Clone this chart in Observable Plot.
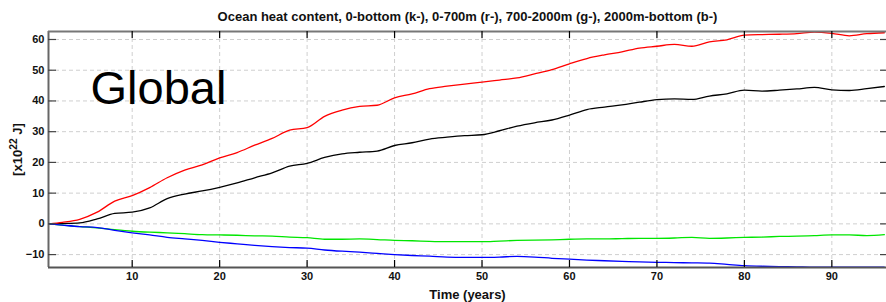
<!DOCTYPE html>
<html>
<head>
<meta charset="utf-8">
<script src="https://cdn.jsdelivr.net/npm/d3@7"></script>
<script src="https://cdn.jsdelivr.net/npm/@observablehq/plot@0.6"></script>
<style>
  html, body { margin: 0; padding: 0; background: #fff; }
  #chart svg { display: block; }
</style>
</head>
<body>
<div id="chart"></div>
<script>
const title = "Ocean heat content, 0-bottom (k-), 0-700m (r-), 700-2000m (g-), 2000m-bottom (b-)";
const panelLabel = "Global";
const yLabelBase = "[x10";
const yLabelSup = "22";
const yLabelUnit = " J]";
const xLabel = "Time (years)";

const years = [0.5, 2, 4, 6, 8, 10, 12, 14, 16, 18, 20, 22, 24, 26, 28, 30, 32, 34, 36, 38, 40,
  42, 44, 46, 48, 50, 52, 54, 56, 58, 60, 62, 64, 66, 68, 70, 72, 74, 76, 78, 80,
  82, 84, 86, 88, 90, 92, 94, 96];

// 0-bottom (black)
const total = [0, 0.1, 0.3, 1.6, 3.4, 3.8, 5.2, 8.2, 9.7, 10.7, 11.9, 13.3, 15.0, 16.6, 18.8, 19.7, 21.6, 22.8, 23.3, 23.7, 25.5,
  26.4, 27.6, 28.2, 28.7, 29.0, 30.3, 31.8, 32.9, 33.8, 35.4, 37.2, 38.0, 38.7, 39.6, 40.4, 40.7, 40.5, 41.6, 42.3, 43.5,
  43.2, 43.5, 43.9, 44.4, 43.6, 43.4, 44.0, 44.7];
// 0-700m (red)
const upper = [0, 0.5, 1.5, 3.8, 7.4, 9.2, 11.8, 15.0, 17.5, 19.2, 21.5, 23.2, 25.6, 27.8, 30.5, 31.3, 35.0, 37.0, 38.2, 38.6, 41.0,
  42.3, 44.0, 44.8, 45.5, 46.1, 46.8, 47.5, 48.8, 50.2, 52.1, 53.8, 55.0, 56.0, 57.2, 57.8, 58.4, 57.8, 59.2, 59.9, 61.4,
  61.6, 61.7, 61.9, 62.4, 62.0, 61.2, 61.9, 62.2];
// 700-2000m (green)
const middle = [0, -0.4, -0.9, -1.3, -1.9, -2.4, -2.7, -2.9, -3.2, -3.5, -3.6, -3.7, -3.9, -4.0, -4.3, -4.5, -5.0, -5.0, -4.9, -5.1, -5.4,
  -5.5, -5.7, -5.8, -5.8, -5.8, -5.6, -5.4, -5.3, -5.2, -5.0, -4.9, -4.9, -4.8, -4.7, -4.7, -4.6, -4.4, -4.7, -4.6, -4.4,
  -4.3, -4.1, -4.0, -3.8, -3.6, -3.6, -3.8, -3.5];
// 2000m-bottom (blue)
const deep = [0, -0.4, -0.9, -1.2, -2.1, -2.9, -3.6, -4.4, -4.9, -5.4, -6.0, -6.5, -7.0, -7.4, -7.7, -7.9, -8.5, -8.9, -9.2, -9.6, -10.0,
  -10.3, -10.5, -10.8, -10.9, -10.9, -10.8, -10.6, -10.8, -11.2, -11.5, -11.8, -12.0, -12.2, -12.4, -12.5, -12.6, -12.7, -12.8, -13.2, -13.6,
  -13.8, -13.9, -14.0, -14.1, -14.1, -14.1, -14.1, -14.1];

const seriesNames = ["0-bottom", "0-700m", "700-2000m", "2000m-bottom"];
const seriesValues = [total, upper, middle, deep];
const seriesColors = ["#000000", "#ff0000", "#00e600", "#0000ff"];

const xTicks = [10, 20, 30, 40, 50, 60, 70, 80, 90];
const yTicks = [-10, 0, 10, 20, 30, 40, 50, 60];
const xDomain = [0.43, 96.25];
const yDomain = [-14.2, 62.6];

const W = 886, H = 302;
const mL = 48, mR = 0, mT = 31, mB = 35;
const fw = W - mL - mR, fh = H - mT - mB;

const rows = [];
seriesNames.forEach((name, s) => {
  years.forEach((yr, i) => rows.push({series: name, year: yr, value: seriesValues[s][i]}));
});

const font = "'Liberation Sans', Arial, Helvetica, sans-serif";
const yLabelFull = yLabelBase + yLabelSup + yLabelUnit;

const chart = Plot.plot({
  width: W,
  height: H,
  marginLeft: mL, marginRight: mR, marginTop: mT, marginBottom: mB,
  style: {fontFamily: font, background: "#fff", overflow: "visible"},
  x: {domain: xDomain, ticks: xTicks, label: null},
  y: {domain: yDomain, ticks: yTicks, label: null},
  color: {domain: seriesNames, range: seriesColors},
  marks: [
    Plot.gridX(xTicks, {stroke: "#cfcfcf", strokeOpacity: 1, strokeDasharray: "4,3"}),
    Plot.gridY(yTicks, {stroke: "#cfcfcf", strokeOpacity: 1, strokeDasharray: "4,3"}),
    Plot.line(rows, {x: "year", y: "value", z: "series", stroke: "series", strokeWidth: 1.3, curve: "monotone-x", clip: true}),
    // frame (left, top, bottom)
    Plot.ruleX([xDomain[0]], {stroke: "#666", strokeWidth: 2}),
    Plot.ruleY([yDomain[1]], {stroke: "#777", strokeWidth: 2}),
    Plot.ruleY([yDomain[0]], {stroke: "#555", strokeWidth: 2}),
    // inward tick marks
    Plot.tickX(xTicks, {x: d => d, insetTop: fh - 7, stroke: "#000", strokeWidth: 1.2}),
    Plot.tickX(xTicks, {x: d => d, insetBottom: fh - 7, stroke: "#000", strokeWidth: 1.2}),
    Plot.tickY(yTicks, {y: d => d, insetRight: fw - 8, stroke: "#444", strokeWidth: 1.2}),
    Plot.tickY(yTicks, {y: d => d, insetLeft: fw - 6, stroke: "#444", strokeWidth: 1.2}),
    // axes labels
    Plot.axisX(xTicks, {tickSize: 0, tickPadding: 5, fontSize: 11, fontWeight: "bold", fill: "#111", label: null}),
    Plot.axisY(yTicks, {tickSize: 0, tickPadding: 4, fontSize: 11, fontWeight: "bold", fill: "#111", label: null}),
    Plot.text([xLabel], {text: d => d, frameAnchor: "bottom", textAnchor: "middle", lineAnchor: "middle", dy: 27, fontSize: 13, fontWeight: "bold", fill: "#111"}),
    Plot.text([yLabelFull], {text: d => d, frameAnchor: "left", textAnchor: "middle", lineAnchor: "middle", dx: -31, rotate: -90, fontSize: 13, fontWeight: "bold", fill: "#111"}),
    Plot.text([title], {text: d => d, frameAnchor: "top", textAnchor: "middle", lineAnchor: "middle", dy: -15, fontSize: 13, fontWeight: "bold", fill: "#111"}),
    Plot.text([panelLabel], {text: d => d, frameAnchor: "top-left", textAnchor: "start", lineAnchor: "middle", dx: 42, dy: 57, fontSize: 47, fill: "#000"})
  ]
});

// turn the y label's exponent into a real superscript
d3.select(chart).selectAll("text").filter(function() { return this.textContent === yLabelFull; })
  .each(function() {
    const t = d3.select(this);
    t.text(null);
    t.append("tspan").text(yLabelBase);
    t.append("tspan").attr("dy", "-0.45em").attr("font-size", "0.8em").text(yLabelSup);
    t.append("tspan").attr("dy", "0.36em").text(yLabelUnit);
  });

document.getElementById("chart").appendChild(chart);
</script>
</body>
</html>
